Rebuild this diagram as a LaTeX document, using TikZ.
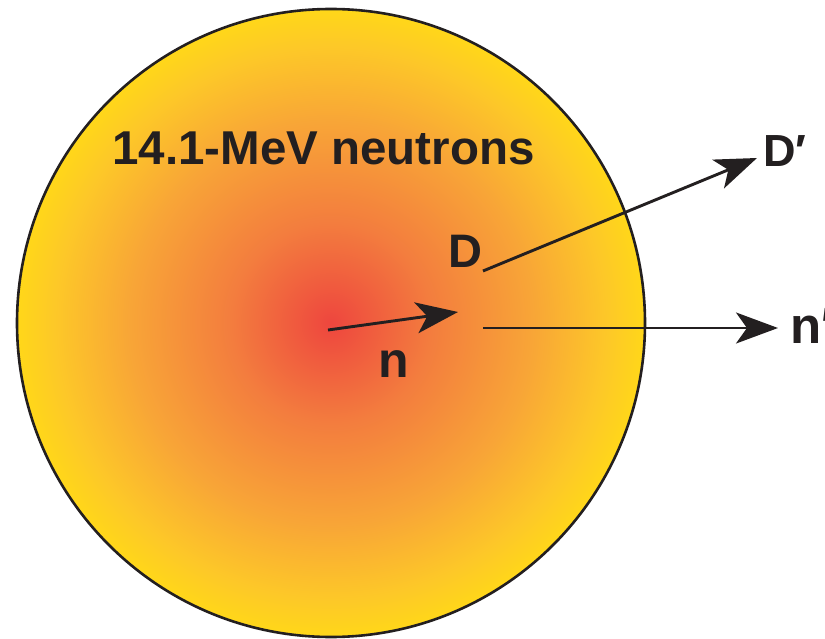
\documentclass[tikz,border=0pt]{standalone}
\usepackage{fontspec}
\setmainfont{Liberation Sans}
\usetikzlibrary{arrows.meta}
\definecolor{ink}{RGB}{35,31,32}
\definecolor{cA}{RGB}{238,70,62}
\definecolor{cB}{RGB}{243,125,62}
\definecolor{cC}{RGB}{248,165,55}
\definecolor{cD}{RGB}{253,200,40}
\definecolor{cE}{RGB}{255,215,25}
\pgfdeclareradialshading{ball}{\pgfpoint{0bp}{0bp}}{color(0bp)=(cA); color(8bp)=(cB); color(16bp)=(cC); color(22bp)=(cD); color(25bp)=(cE); color(50bp)=(cE)}
\tikzset{
  lbl/.style={anchor=base west, inner sep=0pt, text=ink, font=\bfseries},
  ray/.style={draw=ink, line width=2.9pt, -{Stealth[length=42pt, width=31pt, inset=11pt]}}
}
\begin{document}
\begin{tikzpicture}[x=1pt,y=-1pt]
\useasboundingbox (0,0) rectangle (825,639);
\clip (0,0) rectangle (825,639);
\path[shading=ball, draw=ink, line width=2.6pt] (331,323) circle [radius=314];
\node[lbl, font=\fontsize{47.5}{47.5}\selectfont\bfseries] (title) at (112,165) {14.1-MeV neutrons};
\node[lbl, font=\fontsize{47}{47}\selectfont\bfseries] (D) at (448,268) {D};
\node[lbl, font=\fontsize{50}{50}\selectfont\bfseries] (n) at (378,377) {n};
\node[lbl, font=\fontsize{45}{45}\selectfont\bfseries] (Dp) at (763,167) {D′};
\node[lbl, font=\fontsize{51}{51}\selectfont\bfseries] (np) at (790,343) {n′};
\coordinate (a0) at (328,330);
\coordinate (a1) at (458,312);
\coordinate (b0) at (483,271);
\coordinate (b1) at (757,158);
\coordinate (c0) at (483,328);
\coordinate (c1) at (778,328);
\draw[ray] (a0) -- (a1);
\draw[ray] (b0) -- (b1);
\draw[ray] (c0) -- (c1);
\end{tikzpicture}
\end{document}
